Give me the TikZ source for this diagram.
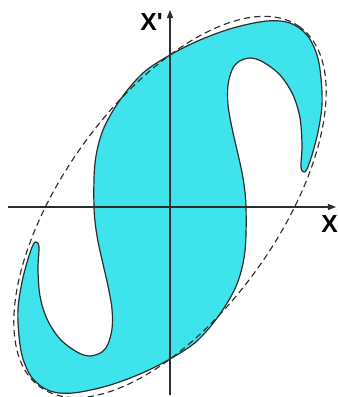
\documentclass[tikz,border=0pt]{standalone}
\usepackage{fontspec}
\setmainfont{Liberation Sans}
\usetikzlibrary{arrows.meta}
\definecolor{shapefill}{RGB}{62,227,235}
\definecolor{ink}{RGB}{45,45,45}
\tikzset{
  outline/.style={draw=ink, line width=0.9pt, fill=shapefill},
  axis/.style={draw=ink, line width=0.9pt, -{Triangle[length=6pt,width=4.5pt]}},
  envelope/.style={draw=ink, line width=0.85pt, dash pattern=on 4.8pt off 3pt},
  lbl/.style={inner sep=0pt, font=\bfseries\fontsize{18.5}{20}\selectfont}
}
\begin{document}
\begin{tikzpicture}[x=0.75pt,y=0.75pt]
\useasboundingbox (-170,-190) rectangle (167,207);
\path[outline] plot[smooth cycle, tension=0.55] coordinates {
(0,152) (30,167) (63,179) (97,186) (120,184) (137,172) (147,152) (151,129)
(152,102) (148,75) (142,52) (137,38) (134,35) (131,40) (132,62) (130,89)
(123,112) (110,132) (93,145) (80,149) (68,145) (62,137) (58,122) (58,102)
(62,79) (67,57) (73,29) (76,0) (75,-44) (67,-77) (50,-107) (27,-134)
(0,-152) (-30,-167) (-63,-179) (-97,-186) (-120,-184) (-137,-172) (-147,-152) (-151,-129)
(-152,-102) (-148,-75) (-142,-52) (-137,-38) (-134,-35) (-131,-40) (-132,-62) (-130,-89)
(-123,-112) (-110,-132) (-93,-145) (-80,-149) (-68,-145) (-62,-137) (-58,-122) (-58,-102)
(-62,-79) (-67,-57) (-73,-29) (-76,0) (-75,44) (-67,77) (-50,107) (-27,134)
};
\path[envelope, rotate=54.2] (0,0) ellipse [x radius=222, y radius=107];
\coordinate (yb) at (0,-188);
\coordinate (yt) at (0,197);
\coordinate (xl) at (-162,0);
\coordinate (xr) at (166,0);
\draw[axis] (yb) -- (yt);
\draw[axis] (xl) -- (xr);
\node[lbl, anchor=base] (xp) at (-18.5,176) {X\textquotesingle};
\node[lbl, anchor=base west] (xx) at (151,-25) {X};
\end{tikzpicture}
\end{document}
